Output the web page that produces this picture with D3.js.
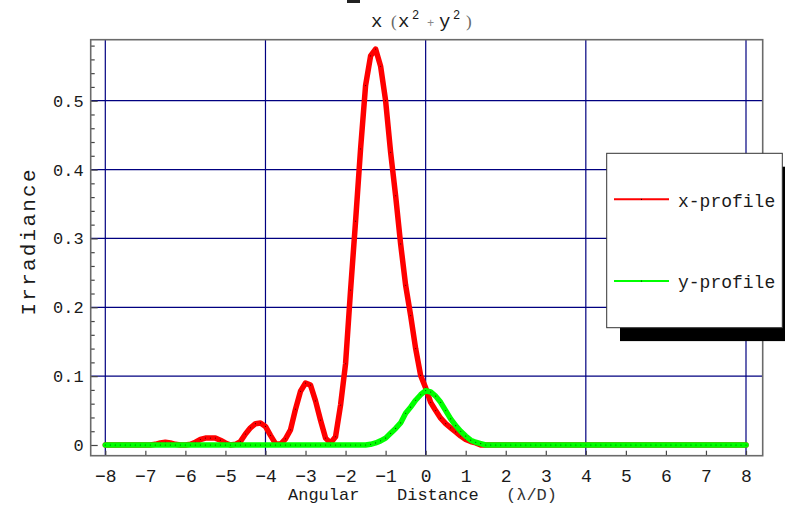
<!DOCTYPE html>
<html>
<head>
<meta charset="utf-8">
<script src="https://cdn.jsdelivr.net/npm/d3@7"></script>
<style>
  html, body { margin: 0; padding: 0; background: #fff; }
  svg { display: block; }
  text { white-space: pre; }
</style>
</head>
<body>
<svg id="chart" width="785" height="508"></svg>
<script>
// ---------------- DATA ----------------
const xValues = [
  -8,-7.875,-7.75,-7.625,-7.5,-7.375,-7.25,-7.125,
  -7,-6.875,-6.75,-6.625,-6.5,-6.375,-6.25,-6.125,
  -6,-5.875,-5.75,-5.625,-5.5,-5.375,-5.25,-5.125,
  -5,-4.875,-4.75,-4.625,-4.5,-4.375,-4.25,-4.125,
  -4,-3.875,-3.75,-3.625,-3.5,-3.375,-3.25,-3.125,
  -3,-2.875,-2.75,-2.625,-2.5,-2.375,-2.25,-2.125,
  -2,-1.875,-1.75,-1.625,-1.5,-1.375,-1.25,-1.125,
  -1,-0.875,-0.75,-0.625,-0.5,-0.375,-0.25,-0.125,
  0,0.125,0.25,0.375,0.5,0.625,0.75,0.875,
  1,1.125,1.25,1.375,1.5,1.625,1.75,1.875,
  2,2.125,2.25,2.375,2.5,2.625,2.75,2.875,
  3,3.125,3.25,3.375,3.5,3.625,3.75,3.875,
  4,4.125,4.25,4.375,4.5,4.625,4.75,4.875,
  5,5.125,5.25,5.375,5.5,5.625,5.75,5.875,
  6,6.125,6.25,6.375,6.5,6.625,6.75,6.875,
  7,7.125,7.25,7.375,7.5,7.625,7.75,7.875,
  8
];
const xProfile = [
  0,0,0,0,0,0,0,0,
  0,0,0.001,0.003,0.004,0.003,0.001,0,
  0,0.001,0.004,0.008,0.010,0.010,0.010,0.007,
  0.003,0,0.001,0.005,0.016,0.025,0.031,0.032,
  0.027,0.014,0.002,0.001,0.009,0.022,0.052,0.078,
  0.090,0.087,0.064,0.036,0.010,0.003,0.012,0.058,
  0.118,0.225,0.325,0.430,0.522,0.565,0.575,0.550,
  0.500,0.425,0.362,0.292,0.232,0.188,0.140,0.101,
  0.083,0.062,0.050,0.039,0.031,0.025,0.019,0.013,
  0.008,0.005,0.003,0,0,0,0,0,
  0,0,0,0,0,0,0,0,
  0,0,0,0,0,0,0,0,
  0,0,0,0,0,0,0,0,
  0,0,0,0,0,0,0,0,
  0,0,0,0,0,0,0,0,
  0,0,0,0,0,0,0,0,
  0
];
const yProfile = [
  0,0,0,0,0,0,0,0,
  0,0,0,0,0,0,0,0,
  0,0,0,0,0,0,0,0,
  0,0,0,0,0,0,0,0,
  0,0,0,0,0,0,0,0,
  0,0,0,0,0,0,0,0,
  0,0,0,0,0,0.001,0.003,0.006,
  0.010,0.017,0.024,0.032,0.046,0.055,0.065,0.073,
  0.079,0.077,0.071,0.062,0.050,0.038,0.028,0.020,
  0.013,0.007,0.004,0.002,0,0,0,0,
  0,0,0,0,0,0,0,0,
  0,0,0,0,0,0,0,0,
  0,0,0,0,0,0,0,0,
  0,0,0,0,0,0,0,0,
  0,0,0,0,0,0,0,0,
  0,0,0,0,0,0,0,0,
  0
];
const seriesNames = ["x-profile", "y-profile"];
const seriesColors = ["#ff0000", "#00ff00"];
const xTickValues = [-8,-7,-6,-5,-4,-3,-2,-1,0,1,2,3,4,5,6,7,8];
const xTickLabels = ["\u22128","\u22127","\u22126","\u22125","\u22124","\u22123","\u22122","\u22121","0","1","2","3","4","5","6","7","8"];
const yTickValues = [0,0.1,0.2,0.3,0.4,0.5];
const yTickLabels = ["0","0.1","0.2","0.3","0.4","0.5"];
const yMinorTicks = [0.02,0.04,0.06,0.08,0.12,0.14,0.16,0.18,0.22,0.24,0.26,0.28,0.32,0.34,0.36,0.38,0.42,0.44,0.46,0.48,0.52,0.54,0.56,0.58];
const xGrid = [-8,-4,0,4,8];
const yGrid = [0.1,0.2,0.3,0.4,0.5];

// ---------------- LAYOUT ----------------
const mono = "'Liberation Mono','Courier New',monospace";
const serif = "'Liberation Serif','Times New Roman',serif";
const frame = {left: 90.7, right: 762.7, top: 39.7, bottom: 455.7};

const svg = d3.select("#chart");
const x = d3.scaleLinear().domain([-8, 8]).range([105.3, 746]);
const y = d3.scaleLinear().domain([0, 0.5]).range([445, 100.7]);

// gridlines
svg.append("g").selectAll("line").data(xGrid).join("line")
  .attr("x1", d => x(d)).attr("x2", d => x(d))
  .attr("y1", frame.top).attr("y2", frame.bottom)
  .attr("stroke", "#000080").attr("stroke-width", 1.2);
svg.append("g").selectAll("line").data(yGrid).join("line")
  .attr("x1", frame.left).attr("x2", frame.right)
  .attr("y1", d => y(d)).attr("y2", d => y(d))
  .attr("stroke", "#000080").attr("stroke-width", 1.2);

// axes (ticks inward)
const yAxis = svg.append("g")
  .attr("transform", `translate(${frame.left},0)`)
  .call(d3.axisLeft(y).tickValues(yTickValues)
    .tickFormat((d, i) => yTickLabels[i]).tickSizeInner(-7).tickSizeOuter(0).tickPadding(7));
const yMinor = svg.append("g")
  .attr("transform", `translate(${frame.left},0)`)
  .call(d3.axisLeft(y).tickValues(yMinorTicks).tickFormat("").tickSizeInner(-4).tickSizeOuter(0));
const xAxis = svg.append("g")
  .attr("transform", `translate(0,${frame.bottom})`)
  .call(d3.axisBottom(x).tickValues(xTickValues)
    .tickFormat((d, i) => xTickLabels[i]).tickSizeInner(-5).tickSizeOuter(0).tickPadding(14));
[yAxis, yMinor, xAxis].forEach(g => {
  g.select(".domain").remove();
  g.selectAll("line").attr("stroke", "#444").attr("stroke-width", 1.2);
  g.selectAll("text").attr("font-family", mono).attr("fill", "#1a1a1a");
});
yAxis.selectAll("text").attr("font-size", 17);
xAxis.selectAll("text").attr("font-size", 18);

// frame
svg.append("rect")
  .attr("x", frame.left).attr("y", frame.top)
  .attr("width", frame.right - frame.left).attr("height", frame.bottom - frame.top)
  .attr("fill", "none").attr("stroke", "#6a6a6a").attr("stroke-width", 1.6);

// curves
const series = [xProfile, yProfile].map((vals, i) => ({
  name: seriesNames[i], color: seriesColors[i],
  points: xValues.map((xv, j) => [xv, vals[j]])
}));
const line = d3.line().x(d => x(d[0])).y(d => y(d[1]));
series.forEach(s => {
  svg.append("path").datum(s.points)
    .attr("d", line).attr("fill", "none")
    .attr("stroke", s.color).attr("stroke-width", 5.5)
    .attr("stroke-linejoin", "round").attr("stroke-linecap", "round");
  svg.append("g").selectAll("circle").data(s.points).join("circle")
    .attr("cx", d => x(d[0])).attr("cy", d => y(d[1]))
    .attr("r", 0.6).attr("fill", "#000").attr("opacity", 0.7);
});

// title
svg.append("rect").attr("x", 347).attr("y", 0).attr("width", 13).attr("height", 3).attr("fill", "#222");
const title = svg.append("text").attr("font-family", mono).attr("font-size", 19).attr("y", 27).attr("fill", "#1a1a1a");
title.append("tspan").attr("x", 371).text("x");
title.append("tspan").attr("x", 391).attr("font-family", serif).attr("font-size", 17).attr("fill", "#666").text("(");
title.append("tspan").attr("x", 398).text("x");
title.append("tspan").attr("x", 412).attr("dy", -8).attr("font-size", 12).text("2");
title.append("tspan").attr("x", 427).attr("dy", 8).attr("font-size", 12).attr("fill", "#888").text("+");
title.append("tspan").attr("x", 439).text("y");
title.append("tspan").attr("x", 453).attr("dy", -8).attr("font-size", 12).text("2");
title.append("tspan").attr("x", 466).attr("dy", 8).attr("font-family", serif).attr("font-size", 17).attr("fill", "#666").text(")");

// axis labels
const axisTitleStyle = t => t.attr("font-family", mono).attr("font-size", 17).attr("y", 500).attr("fill", "#1a1a1a");
svg.append("text").call(axisTitleStyle).attr("x", 288).text("Angular");
svg.append("text").call(axisTitleStyle).attr("x", 397).text("Distance");
svg.append("text").call(axisTitleStyle).attr("x", 506).attr("fill", "#333").text("(\u03bb/D)");

svg.append("text").attr("font-family", mono).attr("font-size", 21).attr("fill", "#1a1a1a")
  .attr("text-anchor", "middle")
  .attr("transform", "translate(35,242.5) rotate(-90)")
  .attr("textLength", 146).attr("lengthAdjust", "spacing")
  .text("Irradiance");

// legend
const lg = {x: 606.7, y: 153.3, w: 175.6, h: 174.4};
svg.append("rect").attr("x", lg.x + 13.3).attr("y", lg.y + 13.4).attr("width", lg.w).attr("height", lg.h).attr("fill", "#000");
svg.append("rect").attr("x", lg.x).attr("y", lg.y).attr("width", lg.w).attr("height", lg.h)
  .attr("fill", "#fff").attr("stroke", "#333").attr("stroke-width", 1);
const legendRows = [199.3, 281];
series.forEach((s, i) => {
  const ly = legendRows[i];
  svg.append("line").attr("x1", 614).attr("x2", 669).attr("y1", ly).attr("y2", ly)
    .attr("stroke", s.color).attr("stroke-width", 2);
  svg.append("circle").attr("cx", 641.5).attr("cy", ly).attr("r", 0.6).attr("fill", "#000");
  svg.append("text").attr("x", 678).attr("y", ly + 7.4)
    .attr("font-family", mono).attr("font-size", 18).attr("fill", "#1a1a1a")
    .text(s.name);
});
</script>
</body>
</html>
